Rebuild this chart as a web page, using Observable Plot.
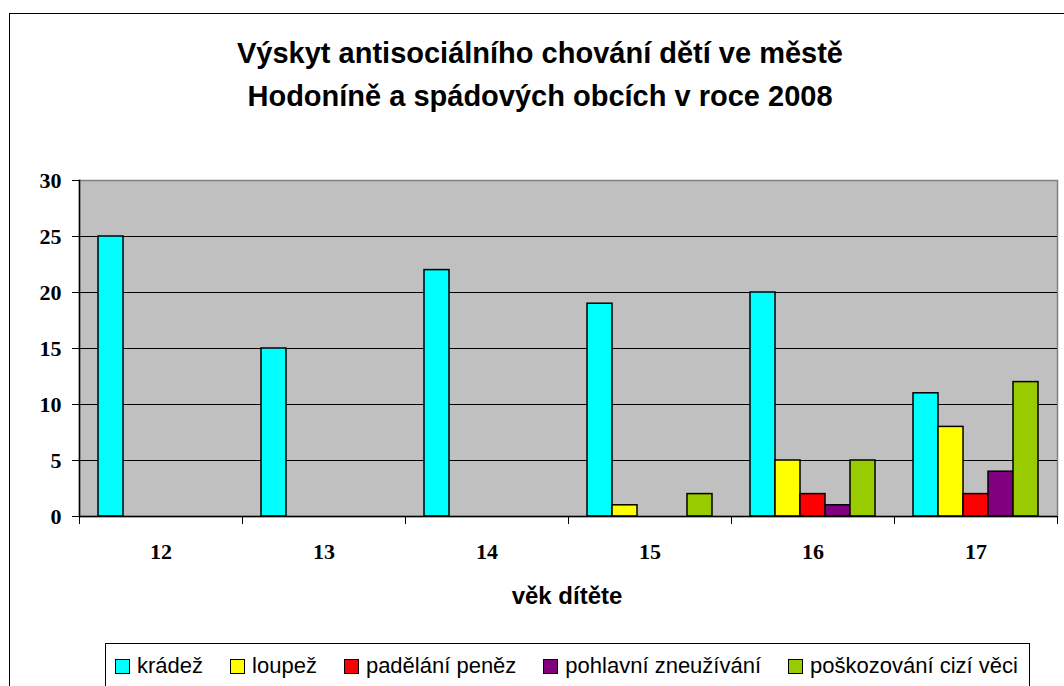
<!DOCTYPE html>
<html>
<head>
<meta charset="utf-8">
<script src="https://cdn.jsdelivr.net/npm/d3@7"></script>
<script src="https://cdn.jsdelivr.net/npm/@observablehq/plot@0.6"></script>
<style>
  html, body { margin: 0; padding: 0; background: #fff; }
  #wrap { position: relative; width: 1064px; height: 686px; overflow: hidden; }
  #frame { position: absolute; left: 9px; top: 13px; width: 1200px; height: 800px;
           border-left: 1.5px solid #000; border-top: 1.5px solid #000; z-index: 2; pointer-events: none; }
  #title { position: absolute; left: 0; top: 32px; width: 1080px; text-align: center;
           font: bold 29px "Liberation Sans", Arial, sans-serif; line-height: 43px; color: #000; z-index: 3; }
  #xlabel { position: absolute; left: 0; top: 584px; width: 1134px; text-align: center;
            font: bold 24px "Liberation Sans", Arial, sans-serif; line-height: 24px; color: #000; z-index: 3; }
  #legend { position: absolute; left: 105px; top: 643px; width: 925px; height: 80px;
            border: 1px solid #000; box-sizing: border-box; background: #fff; z-index: 3; }
  #legend .row { position: absolute; left: 9px; top: 10px; display: flex; align-items: center;
                 font: 22px "Liberation Sans", Arial, sans-serif; line-height: 24px; white-space: nowrap; }
  #legend .item { display: flex; align-items: center; margin-right: 27px; }
  #legend .sw { width: 15px; height: 15px; box-sizing: border-box; border: 1.5px solid #000; margin-right: 7px; }
  #chart { position: absolute; left: 0; top: 0; z-index: 1; }
  #chart svg text { font-family: "Liberation Serif", "Times New Roman", serif !important;
                    font-size: 22px !important; font-weight: bold !important; fill: #000; }
</style>
</head>
<body>
<div id="wrap">
  <div id="frame"></div>
  <div id="title">Výskyt antisociálního chování dětí ve městě<br>Hodoníně a spádových obcích v roce 2008</div>
  <div id="chart"></div>
  <div id="xlabel"></div>
  <div id="legend"><div class="row"></div></div>
</div>
<script>
// ---- data ----
const ages = ["12", "13", "14", "15", "16", "17"];
const series = ["krádež", "loupež", "padělání peněz", "pohlavní zneužívání", "poškozování cizí věci"];
const kradez = [25, 15, 22, 19, 20, 11];
const loupez = [0, 0, 0, 1, 5, 8];
const padelani = [0, 0, 0, 0, 2, 2];
const pohlavni = [0, 0, 0, 0, 1, 4];
const poskozovani = [0, 0, 0, 2, 5, 12];
const colors = ["#00FFFF", "#FFFF00", "#FF0000", "#800080", "#99CC00"];
const yTicks = [0, 5, 10, 15, 20, 25, 30];
const xTitle = "věk dítěte";

const seriesValues = [kradez, loupez, padelani, pohlavni, poskozovani];
const table = [];
ages.forEach((a, i) => series.forEach((s, j) => table.push({age: a, series: s, value: seriesValues[j][i]})));

const H = 630;
const serif = "'Liberation Serif', 'Times New Roman', serif";

function build(useSuper) {
  const bg = useSuper
    ? [Plot.frame({facet: "super", fill: "#C0C0C0", stroke: "#808080", strokeWidth: 1.5})]
    : [Plot.frame({fill: "#C0C0C0", stroke: null})];
  const left = useSuper
    ? [Plot.frame({facet: "super", anchor: "left", stroke: "#000", strokeWidth: 1.5})]
    : [];
  return Plot.plot({
    width: 1064,
    height: H,
    marginTop: 180,
    marginBottom: H - 516,
    marginLeft: 77,
    marginRight: 5,
    style: {background: "transparent", overflow: "visible", fontFamily: serif, fontSize: "22px"},
    fx: {domain: ages, padding: 0, label: null},
    x: {domain: series, paddingInner: 0, paddingOuter: 0.654, axis: null},
    y: {domain: [0, 30], label: null},
    color: {domain: series, range: colors},
    marks: [
      ...bg,
      Plot.ruleY(yTicks.filter(t => t > 0 && t < 30), {stroke: "#000", strokeWidth: 1}),
      Plot.barY(table.filter(d => d.value > 0), {
        fx: "age", x: "series", y: "value", fill: "series",
        stroke: "#000", strokeWidth: 1.5
      }),
      Plot.ruleY([0], {stroke: "#000", strokeWidth: 1.5}),
      ...left,
      Plot.frame({anchor: "left", stroke: "#000", strokeWidth: 1, insetTop: 336, insetBottom: -7}),
      Plot.frame({anchor: "right", stroke: "#000", strokeWidth: 1, insetTop: 336, insetBottom: -7}),
      Plot.axisY({ticks: yTicks, tickSize: 7, tickPadding: 11, fontSize: 22, fontWeight: "bold",
                  fontFamily: serif, fill: "#000", stroke: "#000", label: null}),
      Plot.axisFx({anchor: "bottom", tickSize: 0, tickPadding: 27, fontSize: 22, fontWeight: "bold",
                   fontFamily: serif, fill: "#000", label: null})
    ]
  });
}

let plot;
try { plot = build(true); } catch (e) { plot = build(false); }
document.getElementById("chart").appendChild(plot);

document.getElementById("xlabel").textContent = xTitle;

const row = document.querySelector("#legend .row");
series.forEach((s, i) => {
  const item = document.createElement("div");
  item.className = "item";
  if (i === series.length - 1) item.style.marginRight = "0";
  const sw = document.createElement("div");
  sw.className = "sw";
  sw.style.background = colors[i];
  const t = document.createElement("span");
  t.textContent = s;
  item.appendChild(sw);
  item.appendChild(t);
  row.appendChild(item);
});
</script>
</body>
</html>
